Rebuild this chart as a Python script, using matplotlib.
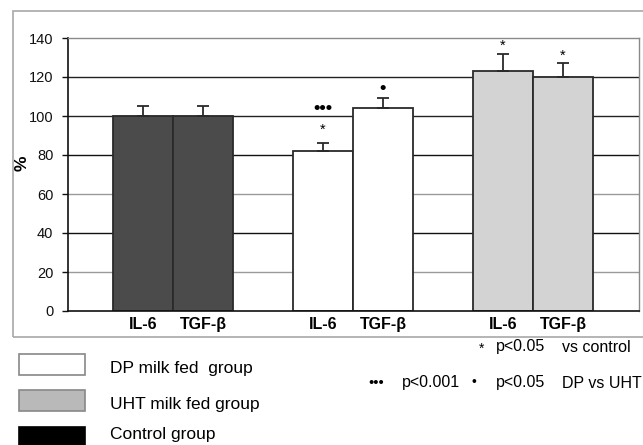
import matplotlib
matplotlib.use("Agg")
import matplotlib.pyplot as plt
from matplotlib.patches import Rectangle
import numpy as np

plt.rcParams['font.family'] = ['Liberation Sans', 'DejaVu Sans']

groups = ['Control', 'DP', 'UHT']
cytokines = ['IL-6', 'TGF-β']
control_vals = [100, 100]
control_err = [5, 5]
dp_vals = [82, 104]
dp_err = [4, 5]
uht_vals = [123, 120]
uht_err = [9, 7]
yticks = [0, 20, 40, 60, 80, 100, 120, 140]
legend_labels = ['DP milk fed  group', 'UHT milk fed group', 'Control group']

W, H = 643, 445
fig = plt.figure(figsize=(W / 100, H / 100), dpi=100)

def fx(px):
    return px / W

def fy(py):
    return 1 - py / H

# outer frame
fig.patches.append(Rectangle((fx(13), fy(337)), 1.2, fy(11) - fy(337),
                             transform=fig.transFigure, fill=False,
                             edgecolor='#a8a8a8', lw=1.2))

ax = fig.add_axes([fx(68), fy(311), fx(639) - fx(68), fy(38) - fy(311)])
ax.set_xlim(-0.583, 2.589)
ax.set_ylim(0, 140)

# gridlines
grid_colors = {20: '#9a9a9a', 40: '#111111', 60: '#9a9a9a', 80: '#111111',
               100: '#222222', 120: '#222222'}
for yv, c in grid_colors.items():
    ax.axhline(yv, color=c, lw=1.0, zorder=0)

w = 0.333
series = [(control_vals, control_err, '#4b4b4b'),
          (dp_vals, dp_err, '#ffffff'),
          (uht_vals, uht_err, '#d3d3d3')]
xt, xl = [], []
for gi, (vals, errs, col) in enumerate(series):
    xs = np.array([gi - w / 2, gi + w / 2])
    ax.bar(xs, vals, width=w, color=col, edgecolor='#2a2a2a', lw=1.3, zorder=2)
    ax.errorbar(xs, vals, yerr=[[0, 0], errs], fmt='none', ecolor='#2a2a2a',
                elinewidth=1.3, capsize=4.5, capthick=1.3, zorder=3)
    xt.extend(xs)
    xl.extend(cytokines)

# significance markers
def top(vals, errs, i):
    return vals[i] + errs[i]

ax.text(1 - w / 2, top(dp_vals, dp_err, 0) + 7, '*', ha='center', va='center', fontsize=10.5)
ax.text(1 - w / 2, top(dp_vals, dp_err, 0) + 18, '•••', ha='center', va='center', fontsize=13, fontweight='bold')
ax.text(1 + w / 2, top(dp_vals, dp_err, 1) + 5, '•', ha='center', va='center', fontsize=13, fontweight='bold')
ax.text(2 - w / 2, top(uht_vals, uht_err, 0) + 4, '*', ha='center', va='center', fontsize=10.5)
ax.text(2 + w / 2, top(uht_vals, uht_err, 1) + 4, '*', ha='center', va='center', fontsize=10.5)

ax.set_xticks(xt)
ax.set_xticklabels(xl, fontsize=11.5, fontweight='bold')
ax.tick_params(axis='x', length=0, pad=4)
ax.set_yticks(yticks)
ax.tick_params(axis='y', length=4.5, width=1, pad=6, labelsize=10.5, colors='#111111')

for s in ['left', 'bottom']:
    ax.spines[s].set_color('#111111')
    ax.spines[s].set_linewidth(1.2)
for s in ['top', 'right']:
    ax.spines[s].set_color('#8a8a8a')
    ax.spines[s].set_linewidth(1.0)

fig.text(fx(22), fy(163), '%', rotation=90, ha='center', va='center',
         fontsize=12.5, fontweight='bold')

# legend boxes
box_styles = [('#ffffff', '#888888'), ('#b9b9b9', '#888888'), ('#000000', '#000000')]
box_tops = [354, 390, 427]
text_y = [369, 405, 435]
for (fc, ec), bt, ty, lab in zip(box_styles, box_tops, text_y, legend_labels):
    fig.patches.append(Rectangle((fx(19), fy(bt + 21)), fx(85) - fx(19), fy(bt) - fy(bt + 21),
                                 transform=fig.transFigure, facecolor=fc,
                                 edgecolor=ec, lw=1.2))
    fig.text(fx(110), fy(ty), lab, ha='left', va='center', fontsize=12.5)

# right-side significance legend
fs = 11.5
fig.text(fx(482), fy(349), '*', ha='center', va='center', fontsize=10)
fig.text(fx(496), fy(347), 'p<0.05', ha='left', va='center', fontsize=fs)
fig.text(fx(562), fy(347), 'vs control', ha='left', va='center', fontsize=fs)
fig.text(fx(376), fy(383), '•••', ha='center', va='center', fontsize=10.5)
fig.text(fx(402), fy(383), 'p<0.001', ha='left', va='center', fontsize=fs)
fig.text(fx(474), fy(382), '•', ha='center', va='center', fontsize=10)
fig.text(fx(496), fy(383), 'p<0.05', ha='left', va='center', fontsize=fs)
fig.text(fx(562), fy(383), 'DP vs UHT', ha='left', va='center', fontsize=fs)

fig.savefig('out.png', dpi=100)
